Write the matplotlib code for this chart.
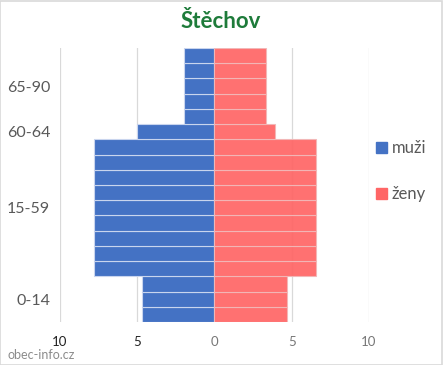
import matplotlib
matplotlib.use("Agg")
import matplotlib.pyplot as plt
from matplotlib.patches import Patch

plt.rcParams['font.family'] = ['Lato', 'DejaVu Sans']

groups = ["0-14", "15-59", "60-64", "65-90"]
rows_per_group = [3, 9, 1, 5]
muzi = [4.67, 7.78, 5.0, 2.0]
zeny = [4.67, 6.56, 3.94, 3.33]
x_ticks = [-10, -5, 0, 5, 10]
x_labels = ["10", "5", "0", "5", "10"]

blue = "#4472C4"
red = "#FF6666"

fig = plt.figure(figsize=(4.43, 3.65), dpi=100)
ax = fig.add_axes([60/443, 1-322/365, 309/443, 274/365])

pos = []
vm = []
vz = []
centers = []
i = 0
for n, m, z in zip(rows_per_group, muzi, zeny):
    centers.append(i + (n - 1) / 2)
    for k in range(n):
        pos.append(i)
        vm.append(-m)
        vz.append(z)
        i += 1

for x in x_ticks:
    ax.axvline(x, color="#d9d9d9", lw=0.9, zorder=0)
ax.barh(pos, vm, height=1.0, color=blue, edgecolor="#c9d5ee", linewidth=0.8, zorder=2)
ax.barh(pos, vz, height=1.0, color=red, edgecolor="#f2b8b8", linewidth=0.8, zorder=2, alpha=0.93)

ax.set_xlim(-10, 10)
ax.set_ylim(-0.5, len(pos) - 0.5)
ax.set_yticks(centers)
ax.set_yticklabels(groups, fontsize=11.5, color="#595959")
ax.set_xticks(x_ticks)
ax.set_xticklabels(x_labels, fontsize=9.5)
for t, c in zip(ax.get_xticklabels(), ["#222222", "#222222", "#777777", "#777777", "#777777"]):
    t.set_color(c)
ax.tick_params(axis="both", length=0)
ax.tick_params(axis="y", pad=7)
ax.tick_params(axis="x", pad=10)
for s in ax.spines.values():
    s.set_visible(False)

fig.text(221/443, 1-21/365, "Štěchov", ha="center", va="center", fontsize=16,
         fontweight="bold", color="#1E7B3A")

handles = [Patch(facecolor=blue, edgecolor=blue), Patch(facecolor=red, edgecolor=red)]
fig.legend(handles, ["muži", "ženy"], loc="center left", bbox_to_anchor=(361/443, 1-171/365),
           frameon=False, fontsize=12, labelcolor="#595959", handlelength=0.65,
           handleheight=0.65, handletextpad=0.3, labelspacing=1.8)

fig.text(8/443, 1-355/365, "obec-info.cz", ha="left", va="center", fontsize=9, color="#8c8c8c")

border = plt.Rectangle((0.001, 0.001), 0.997, 0.997, transform=fig.transFigure,
                       fill=False, edgecolor="#d9d9d9", lw=1.2)
fig.patches.append(border)

fig.savefig("out.png", dpi=100, facecolor="white")
